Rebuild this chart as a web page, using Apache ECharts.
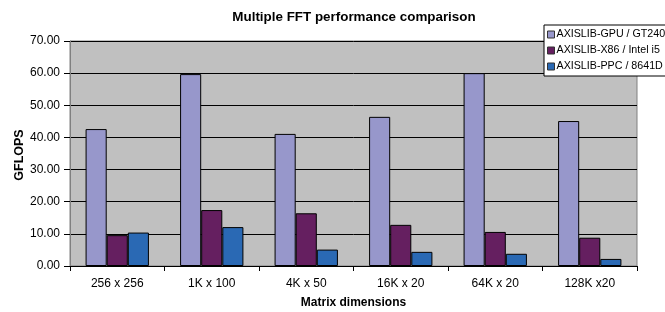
<!DOCTYPE html>
<html><head><meta charset="utf-8">
<script src="https://cdn.jsdelivr.net/npm/echarts@6/dist/echarts.min.js"></script>
<style>html,body{margin:0;padding:0;background:#fff}#c{width:665px;height:312px}</style>
</head><body><div id="c"></div>
<script>
const categories = ['256 x 256','1K x 100','4K x 50','16K x 20','64K x 20','128K x20'];
const seriesNames = ['AXISLIB-GPU / GT240','AXISLIB-X86 / Intel i5','AXISLIB-PPC / 8641D'];
const gpu = [42.6, 59.7, 41.1, 46.4, 60.0, 45.1];
const x86 = [9.6, 17.4, 16.4, 12.8, 10.6, 8.8];
const ppc = [10.4, 12.1, 5.1, 4.4, 3.8, 2.2];
const colors = ['#9797CB', '#651F60', '#2A69B4'];
const font = 'Liberation Sans, Arial, sans-serif';
const chart = echarts.init(document.getElementById('c'), null, {renderer:'canvas'});
const mk = (name, data, i) => ({
  name, type:'bar', data, barGap:'0%', barCategoryGap:'33%',
  itemStyle:{color:colors[i], borderColor:'#000', borderWidth:1},
  emphasis:{disabled:true}, animation:false
});
chart.setOption({
  animation:false,
  title:{text:'Multiple FFT performance comparison', left:349, top:6, textAlign:'center',
    textStyle:{fontFamily:font, fontSize:13.4, fontWeight:'bold', color:'#000'}},
  legend:{left:544, top:25, orient:'vertical', itemWidth:7, itemHeight:7, itemGap:5,
    backgroundColor:'#fff', borderColor:'#000', borderWidth:1, padding:[4,30,4,3],
    icon:'rect', textStyle:{fontFamily:font, fontSize:10.7, color:'#000', padding:[0,0,0,-3]},
    itemStyle:{borderColor:'#333', borderWidth:1}},
  grid:{left:70, right:28, top:41, bottom:46, outerBoundsMode:'none', containLabel:false},
  xAxis:{type:'category', data:categories, name:'Matrix dimensions', nameLocation:'middle', nameGap:31,
    nameTextStyle:{fontFamily:font, fontSize:12, fontWeight:'bold', color:'#000'},
    axisLine:{lineStyle:{color:'#000'}}, axisTick:{show:true, length:5, lineStyle:{color:'#000'}},
    axisLabel:{fontFamily:font, fontSize:12, color:'#000', margin:12}},
  yAxis:{type:'value', min:0, max:70, interval:10,
    axisLine:{show:true, lineStyle:{color:'#808080'}}, axisTick:{show:true, length:6, lineStyle:{color:'#000'}},
    axisLabel:{fontFamily:font, fontSize:12, color:'#000', formatter:v=>v.toFixed(2), margin:10, padding:[3,0,0,0]},
    splitLine:{lineStyle:{color:'#000', width:1}},
    splitArea:{show:false}},
  series:[mk(seriesNames[0],gpu,0), mk(seriesNames[1],x86,1), mk(seriesNames[2],ppc,2)],
  graphic:[
    {type:'rect', shape:{x:70, y:41, width:567, height:225}, style:{fill:'#C0C0C0', stroke:'#808080', lineWidth:1}, z:-10, silent:true},
    {type:'text', x:20, y:155, rotation:Math.PI/2, silent:true,
      style:{text:'GFLOPS', align:'center', verticalAlign:'middle', fill:'#000', font:'bold 12.5px Liberation Sans, Arial, sans-serif'}}
  ]
});
</script></body></html>
